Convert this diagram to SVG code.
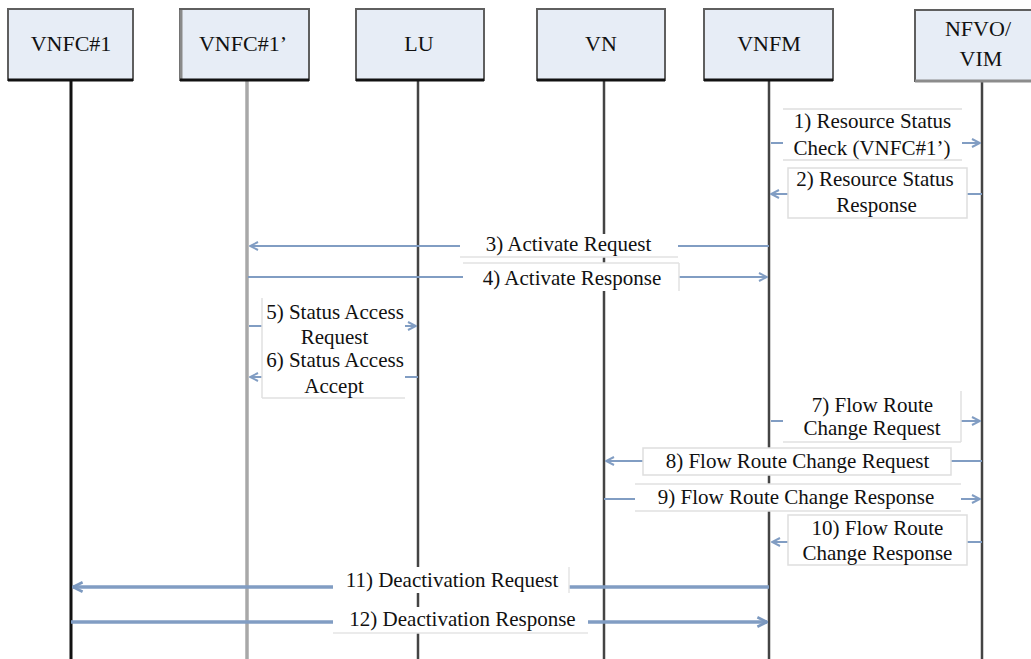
<svg xmlns="http://www.w3.org/2000/svg" width="1031" height="659" viewBox="0 0 1031 659">
<style>
.box{fill:#e7edf6;stroke:#5f5f5f;stroke-width:2}
.bot{stroke:#111;stroke-width:3}
.nl{font-family:"Liberation Serif","Times New Roman",serif;font-size:22px;fill:#111;text-anchor:middle}
.ml{font-family:"Liberation Serif","Times New Roman",serif;font-size:21px;fill:#111;text-anchor:middle}
.msg{stroke:#819dc3;stroke-width:2;fill:none}
.thick{stroke-width:3.5}
.lbl{fill:#fff;stroke:#dedede;stroke-width:1.5}
.ll{stroke:#444;stroke-width:2.5}
</style>
<defs>
<marker id="ah" viewBox="0 0 10 10" refX="9" refY="5" markerWidth="10" markerHeight="10" markerUnits="userSpaceOnUse" orient="auto">
<path d="M1,1 L9,5 L1,9" fill="none" stroke="#819dc3" stroke-width="2"/>
</marker>
<marker id="ah2" viewBox="0 0 10 10" refX="9" refY="5" markerWidth="12" markerHeight="12" markerUnits="userSpaceOnUse" orient="auto">
<path d="M1,1 L9,5 L1,9" fill="none" stroke="#7b98bf" stroke-width="2.2"/>
</marker>
</defs>
<rect width="1031" height="659" fill="#fff"/>

<g id="vnfc1">
<line x1="71" y1="80" x2="71" y2="659" stroke="#111" stroke-width="3"/>
<rect class="box" x="8" y="9" width="125" height="71"/>
<line class="bot" x1="8" y1="80" x2="133" y2="80"/>
<text class="nl" x="71" y="51">VNFC#1</text>
</g>
<g id="vnfc1p">
<line x1="247" y1="80" x2="247" y2="659" stroke="#a8a8a8" stroke-width="3.5"/>
<rect class="box" x="180" y="9" width="129" height="71"/>
<line x1="181" y1="10" x2="181" y2="80" stroke="#8a8a8a" stroke-width="3"/>
<line class="bot" x1="180" y1="80" x2="309" y2="80"/>
<text class="nl" x="243" y="51">VNFC#1’</text>
</g>
<g id="lu">
<line class="ll" x1="418" y1="80" x2="418" y2="659"/>
<rect class="box" x="356" y="9" width="128" height="71"/>
<line class="bot" x1="356" y1="80" x2="484" y2="80"/>
<text class="nl" x="419" y="51">LU</text>
</g>
<g id="vn">
<line class="ll" x1="604" y1="80" x2="604" y2="659"/>
<rect class="box" x="537" y="9" width="128" height="71"/>
<line class="bot" x1="537" y1="80" x2="665" y2="80"/>
<text class="nl" x="601" y="51">VN</text>
</g>
<g id="vnfm">
<line class="ll" x1="769" y1="80" x2="769" y2="659"/>
<rect class="box" x="704" y="9" width="129" height="71"/>
<line class="bot" x1="704" y1="80" x2="833" y2="80"/>
<text class="nl" x="769" y="51">VNFM</text>
</g>
<g id="nfvo">
<line class="ll" x1="982" y1="81" x2="982" y2="659"/>
<rect class="box" x="915" y="10" width="120" height="71"/>
<line x1="915" y1="81" x2="1031" y2="81" stroke="#8c8c8c" stroke-width="3"/>
<text class="nl" x="978" y="36">NFVO/</text>
<text class="nl" x="981" y="66">VIM</text>
</g>

<g id="connectors">
<g id="m1">
<line class="msg" x1="771" y1="143" x2="980" y2="143" marker-end="url(#ah)"/>
<rect x="783" y="109" width="179" height="51" fill="#fff"/>
<line x1="783" y1="109" x2="962" y2="109" stroke="#dedede" stroke-width="1.5"/>
<line x1="783" y1="160" x2="962" y2="160" stroke="#dedede" stroke-width="1.5"/>
<text class="ml" x="872.5" y="128">1) Resource Status</text>
<text class="ml" x="872" y="155">Check (VNFC#1’)</text>
</g>
<g id="m2">
<line class="msg" x1="982" y1="194" x2="771" y2="194" marker-end="url(#ah)"/>
<rect class="lbl" x="788" y="168" width="179" height="50"/>
<text class="ml" x="875" y="186">2) Resource Status</text>
<text class="ml" x="876.5" y="212">Response</text>
</g>
<g id="m3">
<line class="msg" x1="769" y1="246" x2="250" y2="246" marker-end="url(#ah)"/>
<rect x="460" y="234" width="218" height="23" fill="#fff"/>
<line x1="460" y1="257" x2="678" y2="257" stroke="#e2e2e2" stroke-width="1.5"/>
<text class="ml" x="568.5" y="251">3) Activate Request</text>
</g>
<g id="m4">
<line class="msg" x1="248" y1="277" x2="767" y2="277" marker-end="url(#ah)"/>
<rect x="463" y="263" width="216" height="28" fill="#fff"/>
<line x1="463" y1="263" x2="679" y2="263" stroke="#e2e2e2" stroke-width="1.5"/>
<line x1="679" y1="263" x2="679" y2="291" stroke="#e2e2e2" stroke-width="1.5"/>
<text class="ml" x="572" y="285">4) Activate Response</text>
</g>
<g id="m5">
<line class="msg" x1="249" y1="326" x2="416" y2="326" marker-end="url(#ah)"/>
<rect x="262" y="298" width="143" height="52" fill="#fff"/>
<line x1="262" y1="298" x2="262" y2="350" stroke="#e0e0e0" stroke-width="1.5"/>
<text class="ml" x="335" y="319">5) Status Access</text>
<text class="ml" x="334.5" y="344">Request</text>
</g>
<g id="m6">
<line class="msg" x1="418" y1="377" x2="250" y2="377" marker-end="url(#ah)"/>
<rect x="262" y="350" width="143" height="48" fill="#fff"/>
<line x1="262" y1="350" x2="262" y2="398" stroke="#e0e0e0" stroke-width="1.5"/>
<line x1="262" y1="398" x2="405" y2="398" stroke="#e0e0e0" stroke-width="1.5"/>
<text class="ml" x="335" y="367">6) Status Access</text>
<text class="ml" x="334" y="393">Accept</text>
</g>
<g id="m7">
<line class="msg" x1="771" y1="421" x2="980" y2="421" marker-end="url(#ah)"/>
<rect x="783" y="391" width="178" height="51" fill="#fff"/>
<line x1="961" y1="391" x2="961" y2="442" stroke="#e0e0e0" stroke-width="1.5"/>
<line x1="783" y1="442" x2="961" y2="442" stroke="#e0e0e0" stroke-width="1.5"/>
<text class="ml" x="872.5" y="412">7) Flow Route</text>
<text class="ml" x="872" y="435">Change Request</text>
</g>
<g id="m8">
<line class="msg" x1="982" y1="461" x2="606" y2="461" marker-end="url(#ah)"/>
<rect class="lbl" x="643" y="448" width="308" height="27"/>
<text class="ml" x="797.5" y="468">8) Flow Route Change Request</text>
</g>
<g id="m9">
<line class="msg" x1="604" y1="499" x2="980" y2="499" marker-end="url(#ah)"/>
<rect x="635" y="484" width="326" height="27" fill="#fff"/>
<line x1="635" y1="484" x2="961" y2="484" stroke="#e0e0e0" stroke-width="1.5"/>
<line x1="635" y1="511" x2="961" y2="511" stroke="#e0e0e0" stroke-width="1.5"/>
<text class="ml" x="796" y="504">9) Flow Route Change Response</text>
</g>
<g id="m10">
<line class="msg" x1="982" y1="542" x2="772" y2="542" marker-end="url(#ah)"/>
<rect class="lbl" x="788" y="515" width="179" height="50"/>
<text class="ml" x="877.5" y="535">10) Flow Route</text>
<text class="ml" x="877.5" y="560">Change Response</text>
</g>
<g id="m11">
<line class="msg thick" x1="769" y1="587" x2="73" y2="587" stroke="#7b98bf" marker-end="url(#ah2)"/>
<rect x="333" y="567" width="236" height="26" fill="#fff"/>
<line x1="569" y1="567" x2="569" y2="593" stroke="#e4e4e4" stroke-width="1.5"/>
<text class="ml" x="452" y="587">11) Deactivation Request</text>
</g>
<g id="m12">
<line class="msg thick" x1="71" y1="622" x2="767" y2="622" stroke="#7b98bf" marker-end="url(#ah2)"/>
<rect x="333" y="607" width="255" height="26" fill="#fff"/>
<line x1="333" y1="633" x2="588" y2="633" stroke="#e4e4e4" stroke-width="1.5"/>
<text class="ml" x="462.5" y="626">12) Deactivation Response</text>
</g>
</g>
</svg>
